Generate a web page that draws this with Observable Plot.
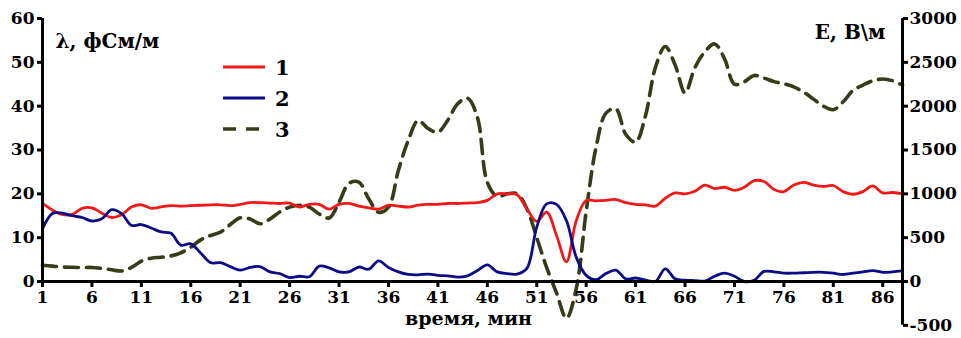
<!DOCTYPE html>
<html>
<head>
<meta charset="utf-8">
<script src="https://cdn.jsdelivr.net/npm/d3@7"></script>
<script src="https://cdn.jsdelivr.net/npm/@observablehq/plot@0.6"></script>
<style>
  html, body { margin: 0; padding: 0; background: #fff; }
  #wrap { position: relative; width: 961px; height: 338px; }
  #legend { position: absolute; left: 0; top: 0; pointer-events: none; }
</style>
</head>
<body>
<div id="wrap"></div>
<script>
// time, minutes
const minutes = d3.range(1, 89);
// series 1: λ (фСм/м), left axis
const lambda1 = [17.8,16.3,15.3,15.3,16.7,16.8,15.6,14.6,15.2,17.0,
  17.5,16.7,17.0,17.3,17.2,17.3,17.4,17.5,17.5,17.3,
  17.6,18.0,18.0,17.9,17.8,17.9,17.0,17.6,17.6,16.5,
  17.6,17.8,17.2,16.8,16.5,17.4,17.2,17.0,17.4,17.6,
  17.6,17.8,17.8,17.9,18.0,18.5,20.0,20.0,19.8,16.6,
  13.7,15.8,10.5,4.5,13.9,18.5,18.4,18.5,18.7,18.0,
  17.6,17.5,17.2,19.0,20.2,20.0,20.6,22.0,21.2,21.5,
  20.8,21.5,23.0,22.8,21.0,20.5,22.0,22.6,22.0,21.7,
  21.9,20.5,19.9,20.5,21.8,20.2,20.3,20.0];
// series 2: λ (фСм/м), left axis
const lambda2 = [12.0,15.5,15.6,15.0,14.6,13.8,14.3,16.4,15.5,12.8,
  13.0,12.2,11.3,11.0,8.3,8.6,6.5,4.3,4.3,3.4,
  2.6,3.2,3.4,2.2,1.8,0.9,1.2,1.1,3.5,3.1,
  2.2,2.2,3.3,2.8,4.7,3.2,2.2,1.6,1.5,1.7,
  1.4,1.3,1.0,1.3,2.5,3.8,2.2,1.8,1.7,3.0,
  12.4,17.7,17.6,13.9,5.5,1.4,0.4,1.8,2.6,0.6,
  0.8,0.3,0.0,2.9,0.6,0.3,0.2,0.1,1.2,1.9,
  1.2,0.0,0.3,2.3,2.2,1.9,1.9,2.0,2.1,2.1,
  1.9,1.6,1.9,2.2,2.5,2.1,2.2,2.4];
// series 3: E (В/м), right axis
const fieldE = [185,175,165,162,160,160,150,133,120,160,
  232,266,277,292,327,392,475,525,563,650,
  727,712,658,712,793,848,870,848,770,725,
  905,1120,1133,943,790,848,1266,1608,1836,1745,
  1703,1840,2027,2090,1870,1130,970,1000,1000,830,
  500,160,-130,-420,-80,800,1530,1920,1970,1680,
  1590,1890,2440,2680,2470,2150,2440,2620,2710,2540,
  2250,2280,2350,2320,2280,2255,2220,2160,2080,2000,
  1960,2050,2180,2240,2290,2310,2290,2240];

const xTicks = d3.range(1, 88, 5);
const leftTicks = [0, 10, 20, 30, 40, 50, 60];
const rightTicks = [-500, 0, 500, 1000, 1500, 2000, 2500, 3000];
const ratio = 3000 / 60; // left 60 aligns with right 3000

const colors = {s1: "#f01818", s2: "#0c0c88", s3: "#363c1a"};
const dash = "14,8";

const rows1 = minutes.map((t, i) => ({t, v: lambda1[i] * ratio}));
const rows2 = minutes.map((t, i) => ({t, v: lambda2[i] * ratio}));
const rows3 = minutes.map((t, i) => ({t, v: fieldE[i]}));

const font = {fontFamily: "DejaVu Serif", fontWeight: "bold", fontSize: 17};

const chart = Plot.plot({
  width: 961,
  height: 338,
  marginLeft: 42,
  marginRight: 59,
  marginTop: 18,
  marginBottom: 57,
  style: {fontFamily: "DejaVu Serif", fontWeight: "bold", fontSize: "17px", color: "#000", background: "#fff"},
  x: {domain: [1, 88]},
  y: {domain: [0, 3000]},
  marks: [
    Plot.line(rows3, {x: "t", y: "v", stroke: colors.s3, strokeWidth: 3.6, strokeDasharray: dash, curve: "catmull-rom"}),
    Plot.line(rows1, {x: "t", y: "v", stroke: colors.s1, strokeWidth: 2.8, curve: "catmull-rom"}),
    Plot.line(rows2, {x: "t", y: "v", stroke: colors.s2, strokeWidth: 2.8, curve: "catmull-rom"}),
    // axes lines
    Plot.ruleY([0], {stroke: "#000", strokeWidth: 3}),
    Plot.ruleX([1], {y1: 0, y2: 3000, stroke: "#000", strokeWidth: 3}),
    Plot.ruleX([88], {y1: -500, y2: 3000, stroke: "#000", strokeWidth: 3}),
    Plot.axisX(xTicks, {anchor: "bottom", tickSize: 6, tickPadding: 3, strokeWidth: 3, label: null, ...font}),
    Plot.axisY(leftTicks.map(d => d * ratio), {anchor: "left", tickSize: 5, tickPadding: 3, strokeWidth: 3, tickFormat: d => String(d / ratio), label: null, ...font}),
    Plot.axisY(rightTicks, {anchor: "right", tickSize: 5, tickPadding: 2, strokeWidth: 3, tickFormat: d => String(d), label: null, ...font}),
    // axis titles
    Plot.text(["λ, фСм/м"], {frameAnchor: "top-left", dx: 13, dy: 15, textAnchor: "start", ...font, fontSize: 20}),
    Plot.text(["E, В\\м"], {frameAnchor: "top-right", dx: -17, dy: 6, textAnchor: "end", ...font, fontSize: 20}),
    Plot.text(["время, мин"], {frameAnchor: "bottom", dx: -4, dy: 43, ...font, fontSize: 19})
  ]
});

const wrap = document.getElementById("wrap");
wrap.appendChild(chart);

// legend overlay
const legendItems = [
  {label: "1", color: colors.s1, width: 2.8, dash: null},
  {label: "2", color: colors.s2, width: 2.8, dash: null},
  {label: "3", color: colors.s3, width: 3.6, dash: "13,10"}
];
const lg = d3.select(wrap).append("svg")
  .attr("id", "legend").attr("width", 961).attr("height", 338);
legendItems.forEach((it, i) => {
  const y = 67 + i * 31;
  lg.append("line").attr("x1", 223).attr("x2", 265).attr("y1", y).attr("y2", y)
    .attr("stroke", it.color).attr("stroke-width", it.width)
    .attr("stroke-dasharray", it.dash);
  lg.append("text").attr("x", 275).attr("y", y).attr("dy", "0.36em")
    .attr("font-family", "DejaVu Serif").attr("font-weight", "bold").attr("font-size", 21)
    .text(it.label);
});
</script>
</body>
</html>
